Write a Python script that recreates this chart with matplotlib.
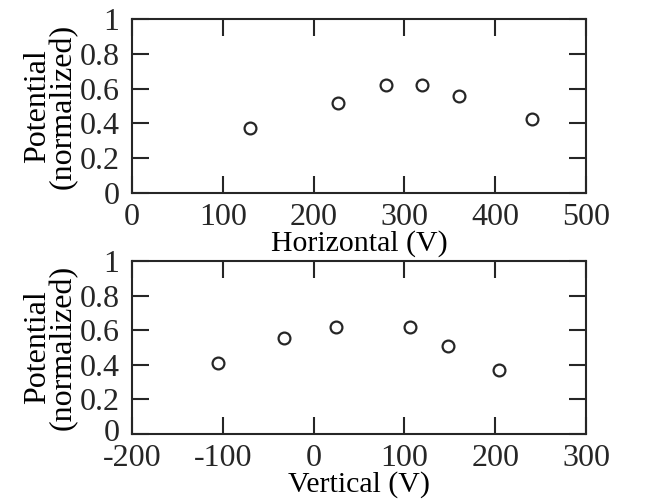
import numpy as np
import matplotlib.pyplot as plt
import matplotlib.transforms as mtransforms

# horizontal scan
horiz_v = [130, 227, 280, 319, 360, 440]
horiz_pot = [0.373, 0.515, 0.623, 0.623, 0.56, 0.425]

# vertical scan
vert_v = [-105, -33, 25, 106, 148, 204]
vert_pot = [0.413, 0.554, 0.62, 0.62, 0.51, 0.37]

ink = '#262626'
plt.rcParams['font.family'] = ['Liberation Serif', 'DejaVu Serif']
plt.rcParams['font.size'] = 23
plt.rcParams['axes.unicode_minus'] = False
plt.rcParams['text.color'] = ink
plt.rcParams['axes.edgecolor'] = ink
plt.rcParams['xtick.color'] = ink
plt.rcParams['ytick.color'] = ink

fig = plt.figure(figsize=(6.62, 4.99), dpi=100)
W, H = 662, 499
ax1 = fig.add_axes([132 / W, 1 - 193 / H, (586 - 132) / W, (193 - 19) / H])
ax2 = fig.add_axes([132 / W, 1 - 434 / H, (586 - 132) / W, (434 - 261) / H])


def style(ax, xlim, xticks, xlabel):
    ax.set_xlim(*xlim)
    ax.set_ylim(0, 1)
    ax.set_xticks(xticks)
    ax.set_yticks([0, 0.2, 0.4, 0.6, 0.8, 1])
    ax.set_yticklabels(['0', '0.2', '0.4', '0.6', '0.8', '1'])
    for s in ax.spines.values():
        s.set_linewidth(1.5)
    ax.tick_params(direction='in', length=12, width=1.5, top=True, right=True)
    ax.tick_params(axis='y', pad=9)
    ax.tick_params(axis='x', pad=7.5)
    ax.set_xlabel(xlabel, fontsize=21.5, labelpad=-1.5)
    ax.set_ylabel('Potential\n(normalized)', linespacing=0.85, labelpad=1)


ax1.plot(horiz_v, horiz_pot, 'o', mfc='none', mec=ink, ms=8.5, mew=1.6)
style(ax1, (0, 500), [0, 100, 200, 300, 400, 500], 'Horizontal (V)')

ax2.plot(vert_v, vert_pot, 'o', mfc='none', mec=ink, ms=8.5, mew=1.6)
style(ax2, (-200, 300), [-200, -100, 0, 100, 200, 300], 'Vertical (V)')

# nudge the lower "0" up a little so it clears "-200"
lab0 = ax2.get_yticklabels()[0]
lab0.set_transform(lab0.get_transform() +
                   mtransforms.ScaledTranslation(0, 4 / 100, fig.dpi_scale_trans))

fig.savefig('out.png', dpi=100)
